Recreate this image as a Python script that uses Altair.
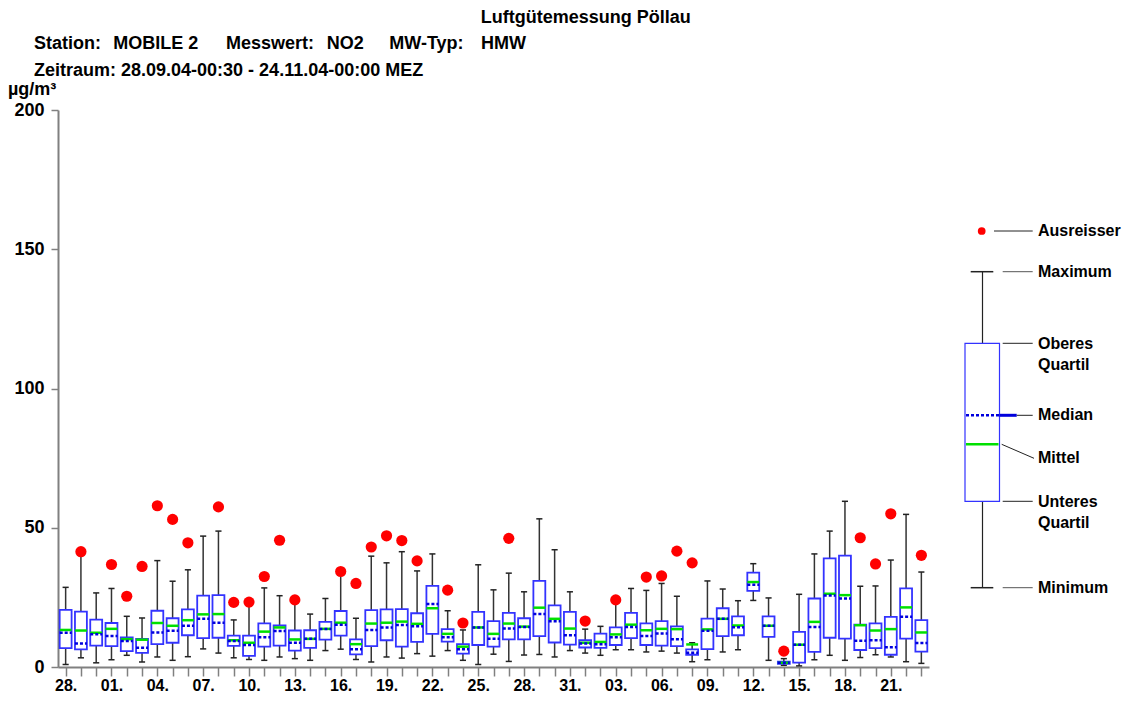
import altair as alt
import pandas as pd

# ---- data ----
days = (["28.09", "29.09", "30.09"]
        + [f"{d:02d}.10" for d in range(1, 32)]
        + [f"{d:02d}.11" for d in range(1, 24)])

v_min = [0.9, 3.3, 1.5, 2.6, 4.2, 1.8, 3.6, 2.4, 3.7, 6.5, 5.0, 3.3, 2.7, 2.4, 3.6, 3.0, 2.4, 5.9, 6.4, 2.7,
         1.8, 3.6, 3.2, 4.8, 3.9, 5.9, 2.4, 0.9, 4.6, 2.0, 4.3, 4.5, 3.6, 5.9, 5.0, 4.2, 6.2, 6.2, 5.4, 5.7,
         5.0, 1.9, 2.6, 5.4, 6.2, 23.9, 2.4, 0.6, 0.4, 2.6, 4.2, 2.4, 3.4, 4.4, 3.6, 1.9, 1.3]
v_q1 = [6.8, 6.3, 7.7, 7.5, 5.7, 5.1, 8.2, 8.7, 11.4, 10.4, 10.5, 7.6, 4.0, 7.3, 7.7, 5.9, 6.9, 9.8, 11.3, 4.5,
        7.5, 9.6, 7.3, 9.0, 11.9, 9.1, 4.8, 7.9, 7.3, 9.9, 9.9, 11.1, 8.8, 8.0, 7.0, 6.9, 7.9, 10.4, 7.9, 7.7,
        7.5, 4.4, 6.4, 11.1, 11.4, 27.3, 10.8, 1.1, 1.6, 5.4, 10.5, 10.2, 6.1, 6.8, 4.4, 10.2, 5.5]
v_med = [12.3, 8.4, 11.8, 11.1, 9.3, 6.9, 12.4, 13.0, 14.8, 17.3, 15.9, 9.3, 7.9, 10.7, 12.9, 8.7, 10.1, 13.6, 15.2, 6.4,
         13.3, 14.2, 15.1, 14.6, 22.6, 10.7, 6.4, 14.2, 10.1, 13.8, 14.4, 19.0, 16.4, 11.4, 8.4, 8.2, 10.7, 14.4, 11.1, 12.0,
         10.0, 5.1, 13.0, 17.3, 14.3, 29.5, 14.8, 1.5, 8.0, 14.4, 25.7, 24.6, 9.4, 9.6, 7.1, 18.0, 8.6]
v_mean = [13.3, 13.1, 12.3, 13.7, 10.0, 9.8, 15.8, 14.8, 16.8, 18.9, 19.0, 9.6, 8.7, 12.7, 14.2, 9.9, 10.1, 13.7, 15.9, 8.2,
          15.6, 15.9, 16.3, 15.5, 21.1, 11.9, 7.3, 14.2, 11.9, 15.6, 14.5, 21.3, 17.3, 13.8, 8.7, 9.0, 11.7, 15.2, 13.2, 13.7,
          13.6, 8.1, 13.5, 17.3, 14.9, 30.5, 14.8, 1.5, 8.0, 16.2, 26.3, 25.8, 15.0, 13.1, 13.6, 21.4, 12.4]
v_q3 = [20.5, 19.9, 17.0, 15.8, 10.6, 10.1, 20.2, 17.5, 20.7, 25.6, 25.8, 11.3, 11.3, 15.7, 14.9, 13.1, 13.2, 16.2, 20.1, 9.9,
        20.4, 20.7, 20.8, 19.3, 29.1, 13.6, 8.2, 19.8, 16.5, 19.4, 17.5, 30.9, 22.1, 19.8, 9.6, 12.0, 14.2, 19.4, 15.7, 16.5,
        14.6, 6.3, 17.4, 21.1, 18.2, 33.9, 18.2, 1.9, 12.6, 24.6, 39.0, 40.0, 15.2, 15.7, 18.0, 28.2, 16.8]
v_max = [28.6, 40.5, 26.6, 28.2, 18.2, 17.6, 38.2, 30.8, 34.9, 47.0, 48.8, 16.9, 22.0, 28.4, 25.6, 23.4, 19.0, 24.6, 33.3, 17.5,
         39.8, 37.4, 41.4, 34.5, 40.6, 20.2, 13.3, 36.7, 27.7, 33.7, 27.0, 53.2, 42.1, 27.0, 13.6, 14.6, 23.8, 28.2, 27.5, 30.0,
         25.4, 8.7, 30.9, 28.0, 23.8, 37.1, 24.8, 3.0, 26.1, 40.6, 48.8, 59.5, 29.0, 29.1, 38.4, 54.8, 34.1]
v_out = [None, 41.4, None, 36.8, 25.4, 36.1, 57.9, 53.0, 44.6, None, 57.5, 23.2, 23.3, 32.5, 45.5, 24.1, None, None, 34.3, 30.0,
         43.1, 47.1, 45.4, 38.1, None, 27.6, 15.8, None, None, 46.2, None, None, None, None, 16.5, None, 24.1, None, 32.3, 32.7,
         41.6, 37.4, None, None, None, None, None, 5.7, None, None, None, None, 46.4, 37.0, 55.0, None, 40.1]

tick_text = [d[:2] + "." if i % 3 == 0 else "" for i, d in enumerate(days)]

df = pd.DataFrame({"idx": list(range(len(days))), "day": days, "vmin": v_min, "q1": v_q1,
                   "med": v_med, "mean": v_mean, "q3": v_q3, "vmax": v_max})
df_out = pd.DataFrame({"idx": [i for i, v in enumerate(v_out) if v is not None],
                       "out": [v for v in v_out if v is not None]})

FONT = "Liberation Sans, Arial, Helvetica, sans-serif"
GREY = "#808080"
label_expr = "[" + ",".join(f"'{t}'" for t in tick_text) + "][datum.value]"

PT = 110  # page y of the plot top (used for the decorative key)

xscale = alt.Scale(domain=[-0.5, len(days) - 0.5], nice=False, zero=False)
yscale = alt.Scale(domain=[0, 200], nice=False, zero=True)
xaxis = alt.Axis(values=list(range(len(days))), labelExpr=label_expr, title=None, grid=False,
                 tickSize=9, tickColor=GREY, tickWidth=1.5, domainColor=GREY, domainWidth=2,
                 labelFont=FONT, labelFontSize=16, labelFontWeight="bold", labelColor="black",
                 labelPadding=1, labelOverlap=False, labelFlush=False)
yaxis = alt.Axis(values=[0, 50, 100, 150, 200], title=None, grid=False,
                 tickSize=7, tickColor=GREY, tickWidth=1.5, domainColor=GREY, domainWidth=2,
                 labelFont=FONT, labelFontSize=18, labelFontWeight="bold", labelColor="black",
                 labelPadding=7)


def X(f):
    return alt.X(f, type="quantitative", scale=xscale, axis=xaxis)


def Y(f):
    return alt.Y(f, type="quantitative", scale=yscale, axis=yaxis)


base = alt.Chart(df).transform_calculate(
    lo="datum.idx - 0.39", hi="datum.idx + 0.39",
    clo="datum.idx - 0.2", chi="datum.idx + 0.2")

whisk_up = base.mark_rule(color="#333333", strokeWidth=1.5).encode(x=X("idx"), y=Y("q3"), y2="vmax")
whisk_dn = base.mark_rule(color="#333333", strokeWidth=1.5).encode(x=X("idx"), y=Y("vmin"), y2="q1")
cap_up = base.mark_rule(color="#222222", strokeWidth=1.5).encode(x=X("clo"), x2="chi", y=Y("vmax"))
cap_dn = base.mark_rule(color="#222222", strokeWidth=1.5).encode(x=X("clo"), x2="chi", y=Y("vmin"))
box = base.mark_bar(fill="white", stroke="#3333ff", strokeWidth=1.8).encode(
    x=X("lo"), x2="hi", y=Y("q1"), y2="q3")
mean_l = base.mark_rule(color="#00e000", strokeWidth=2.5).encode(x=X("lo"), x2="hi", y=Y("mean"))
med_l = base.mark_rule(color="#0000dd", strokeWidth=2.5, strokeDash=[3, 2]).encode(
    x=X("lo"), x2="hi", y=Y("med"))
outl = alt.Chart(df_out).mark_circle(color="#ff0000", opacity=1, size=125).encode(x=X("idx"), y=Y("out"))

one = pd.DataFrame({"a": [0]})


def txt(t, x, y, size=18, baseline="alphabetic"):
    return alt.Chart(one).mark_text(align="left", baseline=baseline, font=FONT, fontSize=size,
                                    fontWeight="bold", color="black").encode(
        x=alt.value(x), y=alt.value(y), text=alt.value(t))


def seg(x1, y1, x2, y2, color="#222222", w=1.0, dash=None):
    kw = dict(color=color, strokeWidth=w)
    if dash:
        kw["strokeDash"] = dash
    return alt.Chart(one).mark_rule(**kw).encode(
        x=alt.value(x1), y=alt.value(y1), x2=alt.value(x2), y2=alt.value(y2))


header = [
    txt("Luftgütemessung Pöllau", 422.7, 23 - PT),
    txt("Station:", -24, 49 - PT), txt("MOBILE 2", 55.3, 49 - PT), txt("Messwert:", 168, 49 - PT),
    txt("NO2", 268.7, 49 - PT), txt("MW-Typ:", 331.3, 49 - PT), txt("HMW", 423, 49 - PT),
    txt("Zeitraum: 28.09.04-00:30 - 24.11.04-00:00 MEZ", -24, 76 - PT),
    txt("µg/m³", -50, 95 - PT),
]


def ly(page_y):
    return page_y - PT


# ---- legend (decorative key, pixel placement) ----
LX0, LX1, LC = 907, 941.5, 924.5
legend = [
    seg(LC, ly(271.7), LC, ly(343.3), w=1.2),
    seg(LC, ly(501.3), LC, ly(587.7), w=1.2),
    seg(912.7, ly(271.7), 935.3, ly(271.7), w=1.5),
    seg(912.7, ly(587.7), 935.3, ly(587.7), w=1.5),
    alt.Chart(one).mark_rect(fill="white", stroke="#3333ff", strokeWidth=1.2).encode(
        x=alt.value(LX0), x2=alt.value(LX1), y=alt.value(ly(343.3)), y2=alt.value(ly(501.3))),
    seg(LX0 + 1, ly(415.3), LX1, ly(415.3), color="#0000dd", w=2.5, dash=[3, 2]),
    seg(LX1, ly(415.3), 958.7, ly(415.3), color="#0000dd", w=3),
    seg(LX0 + 1, ly(444.3), LX1 - 1, ly(444.3), color="#00e000", w=2.5),
    alt.Chart(one).mark_circle(color="#ff0000", opacity=1, size=60).encode(
        x=alt.value(923.7), y=alt.value(ly(231))),
    seg(936, ly(231), 974.7, ly(231)),
    seg(944.7, ly(271.7), 974.7, ly(271.7), color="#555555"),
    seg(944.7, ly(343.3), 974.7, ly(343.3)),
    seg(958.7, ly(415.3), 974.7, ly(415.3)),
    seg(943.7, ly(444.3), 976, ly(458.3)),
    seg(944.7, ly(501.3), 974.7, ly(501.3)),
    seg(944.7, ly(587.7), 974.7, ly(587.7), color="#555555"),
    txt("Ausreisser", 980, ly(231), 16, "middle"),
    txt("Maximum", 980, ly(271.7), 16, "middle"),
    txt("Oberes", 980, ly(344), 16, "middle"),
    txt("Quartil", 980, ly(365.3), 16, "middle"),
    txt("Median", 980, ly(415.3), 16, "middle"),
    txt("Mittel", 980, ly(458.3), 16, "middle"),
    txt("Unteres", 980, ly(502), 16, "middle"),
    txt("Quartil", 980, ly(523.3), 16, "middle"),
    txt("Minimum", 980, ly(587.7), 16, "middle"),
]

chart = alt.layer(
    whisk_up, whisk_dn, cap_up, cap_dn, box, mean_l, med_l, outl, *header, *legend
).properties(
    width=871, height=557,
    background="white",
    autosize=alt.AutoSizeParams(type="none"),
    padding={"left": 50, "top": PT - 8, "right": 196, "bottom": 25},
).configure_view(stroke=None)

chart.save("out.html", embed_options={"renderer": "svg", "actions": False})
